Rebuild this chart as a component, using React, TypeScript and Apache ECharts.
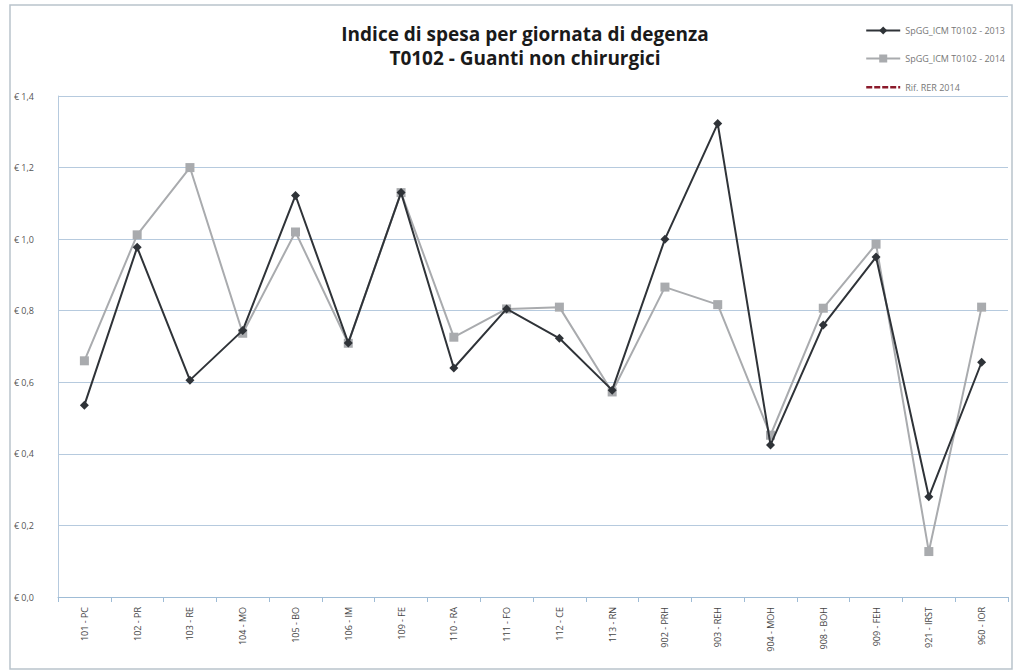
import React, { useEffect, useRef } from "react";
import * as echarts from "echarts";

const categories = [
  "101 - PC", "102 - PR", "103 - RE", "104 - MO", "105 - BO", "106 - IM",
  "109 - FE", "110 - RA", "111 - FO", "112 - CE", "113 - RN", "902 - PRH",
  "903 - REH", "904 - MOH", "908 - BOH", "909 - FEH", "921 - IRST", "960 - IOR",
];
const series2013 = [0.536, 0.977, 0.606, 0.745, 1.122, 0.71, 1.13, 0.64, 0.805, 0.723, 0.578, 1.0, 1.323, 0.425, 0.76, 0.95, 0.28, 0.656];
const series2014 = [0.66, 1.012, 1.2, 0.737, 1.02, 0.709, 1.13, 0.726, 0.805, 0.81, 0.573, 0.866, 0.817, 0.452, 0.807, 0.986, 0.127, 0.81];
const seriesRif: number[] = [];
const seriesNames = ["SpGG_ICM T0102 - 2013", "SpGG_ICM T0102 - 2014", "Rif. RER 2014"];
const titleLines = ["Indice di spesa per giornata di degenza", "T0102 - Guanti non chirurgici"];

export default function App() {
  const ref = useRef<HTMLDivElement>(null);
  useEffect(() => {
    const chart = echarts.init(ref.current!, null, { renderer: "svg" });
    chart.setOption({
      animation: false,
      backgroundColor: "#ffffff",
      title: {
        text: titleLines.join("\n"),
        left: 520,
        textAlign: "center",
        top: 17,
        textStyle: { fontFamily: "Open Sans", fontWeight: "bold", fontSize: 19, color: "#1a1a1a", lineHeight: 24 },
      },
      legend: {
        orient: "vertical",
        right: 6,
        top: 21,
        itemGap: 19,
        itemWidth: 34,
        itemHeight: 10,
        textStyle: { fontFamily: "Open Sans", fontSize: 9, color: "#777" },
        data: [
          { name: seriesNames[0] },
          { name: seriesNames[1] },
          {
            name: seriesNames[2],
            icon: "path://M0,4h6v2.4h-6z M8,4h6v2.4h-6z M16,4h6v2.4h-6z M24,4h6v2.4h-6z M32,4h2v2.4h-2z M0,0h0.01v0.01h-0.01z M0,10h0.01v0.01h-0.01z",
          },
        ],
      },
      graphic: [
        {
          type: "rect",
          shape: { x: 10, y: 5, width: 1002, height: 664 },
          style: { fill: "none", stroke: "#b9c3cc", lineWidth: 1.5 },
          silent: true,
        },
      ],
      grid: { left: 58, right: 8, top: 96, bottom: 75 },
      xAxis: {
        type: "category",
        data: categories,
        boundaryGap: true,
        axisLine: { lineStyle: { color: "#9fbcd6" } },
        axisTick: { show: true, lineStyle: { color: "#9fbcd6" } },
        axisLabel: { rotate: 90, fontSize: 9, color: "#444", fontFamily: "Open Sans", margin: 10 },
      },
      yAxis: {
        type: "value",
        min: 0,
        max: 1.4,
        interval: 0.2,
        axisLine: { show: true, lineStyle: { color: "#b6cade" } },
        axisTick: { show: false },
        splitLine: { lineStyle: { color: "#b6cade" } },
        axisLabel: {
          fontSize: 9,
          color: "#555",
          fontFamily: "Open Sans",
          margin: 24,
          formatter: (v: number) => "€ " + v.toFixed(1).replace(".", ","),
        },
      },
      series: [
        {
          name: seriesNames[0],
          type: "line",
          data: series2013,
          z: 3,
          symbol: "diamond",
          symbolSize: 9,
          color: "#2f3338",
          lineStyle: { width: 2, color: "#2f3338" },
          itemStyle: { color: "#2f3338" },
        },
        {
          name: seriesNames[1],
          type: "line",
          data: series2014,
          z: 2,
          symbol: "rect",
          symbolSize: 9,
          color: "#a9abae",
          lineStyle: { width: 2, color: "#a9abae" },
          itemStyle: { color: "#a9abae" },
        },
        {
          name: seriesNames[2],
          type: "line",
          data: seriesRif,
          symbol: "none",
          color: "#8b1a2b",
          itemStyle: { color: "#8b1a2b" },
          lineStyle: { width: 2, type: "dashed", color: "#8b1a2b" },
        },
      ],
    });
    return () => chart.dispose();
  }, []);
  return <div ref={ref} style={{ position: "fixed", left: 0, top: 0, width: 1016, height: 672 }} />;
}
